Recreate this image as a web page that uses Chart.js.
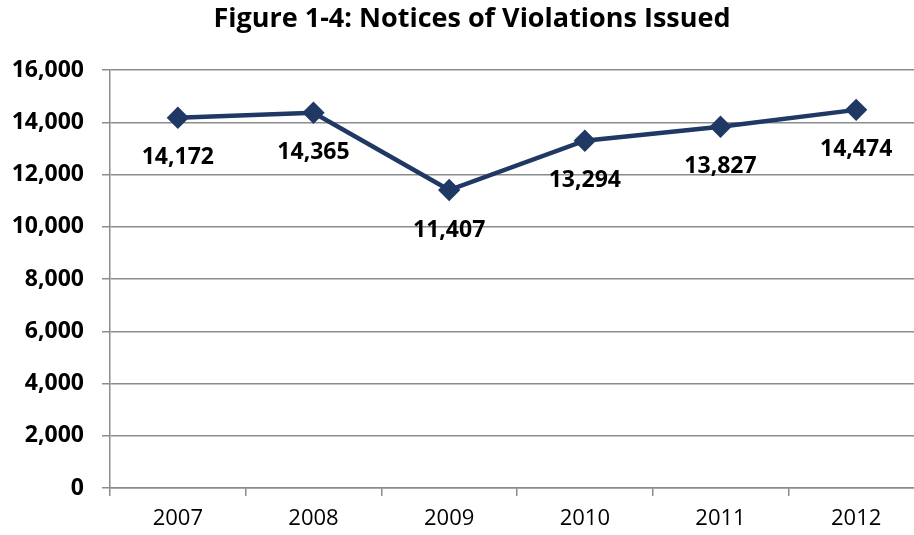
<!DOCTYPE html>
<html lang="en">
  <head>
    <meta charset="UTF-8" />
    <title>Notices of Violations Issued</title>
    <script src="https://cdn.jsdelivr.net/npm/chart.js"></script>
    <style>
      body {
        margin: 0;
        background: #fff;
        overflow: hidden;
      }
      /* the original plot runs about 10px past the right edge of the image,
         so the canvas is a bit wider than the window and gets clipped */
      #wrap {
        width: 924px;
        height: 535px;
      }
    </style>
  </head>
  <body>
    <div id="wrap"><canvas id="myChart"></canvas></div>
    <script>
      // chart data
      const years = ["2007", "2008", "2009", "2010", "2011", "2012"];
      const notices = [14172, 14365, 11407, 13294, 13827, 14474];
      const yTicks = [0, 2000, 4000, 6000, 8000, 10000, 12000, 14000, 16000];
      const chartTitle = "Figure 1-4: Notices of Violations Issued";

      const navy = "#1f3864";
      const gridGray = "#8c8c8c";
      const fontFamily = "'Open Sans', sans-serif";

      // title is drawn by hand so it can sit where the original has it
      const titleText = {
        id: "titleText",
        afterDraw(chart) {
          const ctx = chart.ctx;
          ctx.save();
          ctx.font = "bold 27px " + fontFamily;
          ctx.fillStyle = "#000";
          ctx.textAlign = "center";
          ctx.textBaseline = "middle";
          ctx.fillText(chartTitle, 472, 19);
          ctx.restore();
        },
      };

      // draws the value under each point
      const valueLabels = {
        id: "valueLabels",
        afterDatasetsDraw(chart) {
          const ctx = chart.ctx;
          const meta = chart.getDatasetMeta(0);
          ctx.save();
          ctx.font = "bold 23px " + fontFamily;
          ctx.fillStyle = "#000";
          ctx.textAlign = "center";
          ctx.textBaseline = "middle";
          meta.data.forEach(function (pt, i) {
            ctx.fillText(notices[i].toLocaleString("en-US"), pt.x, pt.y + 40);
          });
          ctx.restore();
        },
      };

      const ctx = document.getElementById("myChart").getContext("2d");
      new Chart(ctx, {
        type: "line",
        data: {
          labels: years,
          datasets: [
            {
              data: notices,
              borderColor: navy,
              backgroundColor: navy,
              borderWidth: 4.5,
              pointStyle: "rectRot",
              pointRadius: 8,
              pointHoverRadius: 8,
              tension: 0,
            },
          ],
        },
        options: {
          responsive: true,
          maintainAspectRatio: false,
          animation: false,
          layout: {
            autoPadding: false,
            padding: { top: 70, right: 0, bottom: 0, left: 0 },
          },
          plugins: {
            legend: { display: false },
            tooltip: { enabled: false },
          },
          scales: {
            x: {
              offset: true,
              grid: {
                offset: true,
                drawOnChartArea: false,
                color: gridGray,
                tickLength: 8,
                lineWidth: 1.5,
              },
              border: { color: gridGray, width: 1.5 },
              ticks: {
                color: "#000",
                padding: 10,
                font: { family: fontFamily, size: 22 },
                maxRotation: 0,
              },
              afterFit(scale) {
                scale.height = 47;
                scale.paddingLeft = 0;
                scale.paddingRight = 0;
              },
            },
            y: {
              min: 0,
              max: 16000,
              afterBuildTicks(scale) {
                scale.ticks = yTicks.map((v) => ({ value: v }));
              },
              grid: { color: gridGray, tickLength: 8, lineWidth: 1.5 },
              border: { color: gridGray, width: 1.5 },
              ticks: {
                color: "#000",
                padding: 18,
                font: { family: fontFamily, size: 23, weight: "bold" },
                callback: (v) => v.toLocaleString("en-US"),
              },
              afterFit(scale) {
                scale.width = 110;
              },
            },
          },
        },
        plugins: [valueLabels, titleText],
      });
    </script>
  </body>
</html>
